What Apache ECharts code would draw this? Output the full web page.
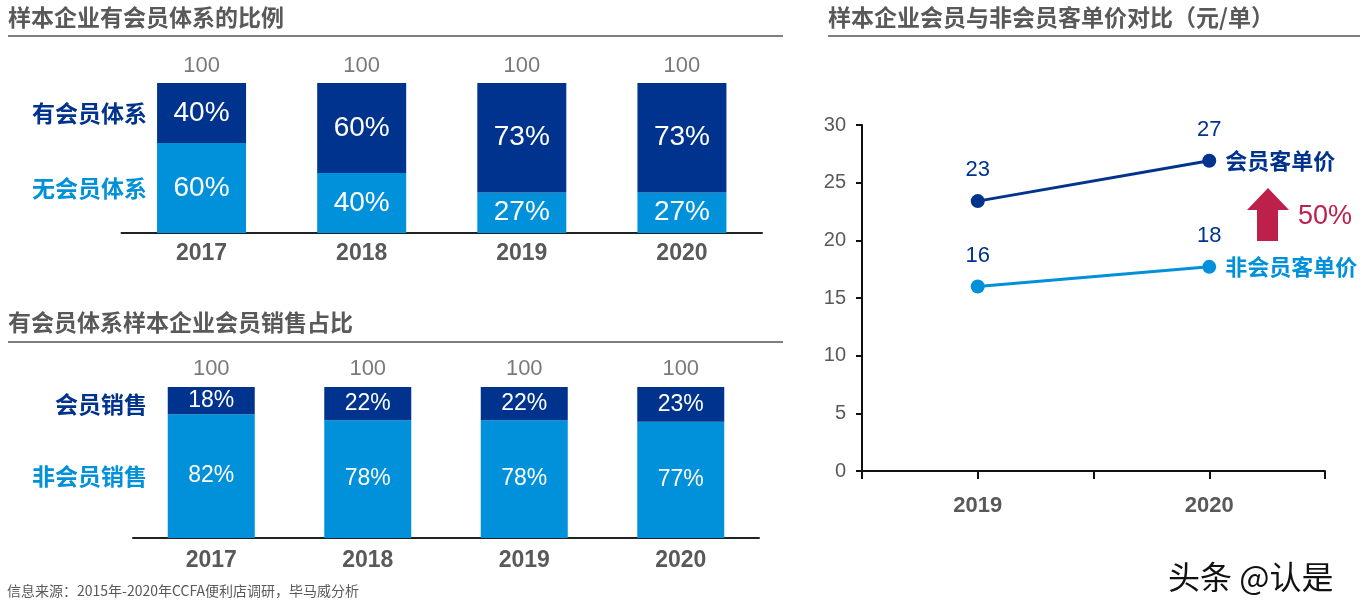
<!DOCTYPE html>
<html>
<head>
<meta charset="utf-8">
<script src="https://cdn.jsdelivr.net/npm/echarts@6/dist/echarts.min.js"></script>
<style>
html,body{margin:0;padding:0;background:#fff;}
#c{width:1369px;height:613px;}
</style>
</head>
<body>
<div id="c"></div>
<script>
// ---- data ----
var years = ['2017', '2018', '2019', '2020'];
var hasMember = [40, 60, 73, 73];
var noMember = [60, 40, 27, 27];
var totals1 = [100, 100, 100, 100];
var memberSales = [18, 22, 22, 23];
var nonMemberSales = [82, 78, 78, 77];
var totals2 = [100, 100, 100, 100];
var priceAxisLabels = ['', '2019', '', '2020', ''];
var pricePos = [1, 3];
var memberPrice = [23.4, 26.9];
var nonMemberPrice = [16.0, 17.7];

var DARK = '#00338D', LIGHT = '#0091DA', RED = '#BC204B', GRAY = '#595959';
var CJK = '"Noto Sans CJK SC", "Noto Sans", sans-serif';
var NUM = '"Liberation Sans", Arial, sans-serif';

function pairs(xs, ys) { return ys.map(function (v, i) { return [xs[i], v]; }); }

var chart = echarts.init(document.getElementById('c'));

function catAxis(gi, margin) {
  return {
    type: 'category', gridIndex: gi, data: years,
    axisLine: { lineStyle: { color: '#222', width: 2 } },
    axisTick: { show: false },
    axisLabel: { color: GRAY, fontFamily: NUM, fontWeight: 'bold', fontSize: 23, margin: margin }
  };
}
function valAxis(gi) {
  return { type: 'value', gridIndex: gi, min: 0, max: 100, show: false };
}
function inLabel(size) {
  return { show: true, position: 'inside', color: '#fff', fontFamily: NUM, fontSize: size,
    formatter: function (p) { return p.value + '%'; } };
}
function totalSeries(ai, data, dist) {
  return {
    type: 'scatter', xAxisIndex: ai, yAxisIndex: ai, data: data, symbolSize: 1,
    itemStyle: { color: 'rgba(0,0,0,0)' }, silent: true,
    label: { show: true, position: 'top', distance: dist, color: GRAY, fontFamily: NUM, fontSize: 22 }
  };
}

var option = {
  animation: false,
  grid: [
    { left: 121.5, top: 83, width: 640.5, height: 150 },
    { left: 133, top: 387, width: 626, height: 151 },
    { left: 862, top: 125, width: 463, height: 346 }
  ],
  xAxis: [
    catAxis(0, 9),
    catAxis(1, 11),
    {
      type: 'value', gridIndex: 2, min: 0, max: 4, interval: 1,
      axisLine: { show: true, lineStyle: { color: '#111', width: 2 } },
      axisTick: { show: true, length: 8, lineStyle: { color: '#111', width: 2 } },
      splitLine: { show: false },
      axisLabel: { color: GRAY, fontFamily: NUM, fontWeight: 'bold', fontSize: 22, margin: 24,
        formatter: function (v) { return priceAxisLabels[v] || ''; } }
    }
  ],
  yAxis: [
    valAxis(0),
    valAxis(1),
    {
      type: 'value', gridIndex: 2, min: 0, max: 30, interval: 5,
      axisLine: { show: true, lineStyle: { color: '#111', width: 2 } },
      axisTick: { show: true, length: 6, lineStyle: { color: '#111', width: 2 } },
      splitLine: { show: false },
      axisLabel: { color: GRAY, fontFamily: NUM, fontSize: 20, margin: 16 }
    }
  ],
  series: [
    { name: '无会员体系', type: 'bar', stack: 'a', xAxisIndex: 0, yAxisIndex: 0, data: noMember,
      barWidth: 89, itemStyle: { color: LIGHT }, label: inLabel(28) },
    { name: '有会员体系', type: 'bar', stack: 'a', xAxisIndex: 0, yAxisIndex: 0, data: hasMember,
      barWidth: 89, itemStyle: { color: DARK }, label: inLabel(28) },
    totalSeries(0, totals1, 6),
    { name: '非会员销售', type: 'bar', stack: 'b', xAxisIndex: 1, yAxisIndex: 1, data: nonMemberSales,
      barWidth: 87, itemStyle: { color: LIGHT }, label: inLabel(23) },
    { name: '会员销售', type: 'bar', stack: 'b', xAxisIndex: 1, yAxisIndex: 1, data: memberSales,
      barWidth: 87, itemStyle: { color: DARK }, label: inLabel(23) },
    totalSeries(1, totals2, 7),
    {
      name: '会员客单价', type: 'line', xAxisIndex: 2, yAxisIndex: 2, data: pairs(pricePos, memberPrice),
      symbol: 'circle', symbolSize: 14, lineStyle: { color: DARK, width: 3 }, itemStyle: { color: DARK },
      label: { show: true, position: 'top', distance: 13, color: DARK, fontFamily: NUM, fontSize: 22,
        formatter: function (p) { return Math.round(p.value[1]); } },
      endLabel: { show: true, distance: 16, color: DARK, fontFamily: CJK, fontWeight: 'bold', fontSize: 22,
        formatter: function (p) { return p.seriesName; } }
    },
    {
      name: '非会员客单价', type: 'line', xAxisIndex: 2, yAxisIndex: 2, data: pairs(pricePos, nonMemberPrice),
      symbol: 'circle', symbolSize: 14, lineStyle: { color: LIGHT, width: 3 }, itemStyle: { color: LIGHT },
      label: { show: true, position: 'top', distance: 13, color: DARK, fontFamily: NUM, fontSize: 22,
        formatter: function (p) { return Math.round(p.value[1]); } },
      endLabel: { show: true, distance: 16, color: LIGHT, fontFamily: CJK, fontWeight: 'bold', fontSize: 22,
        formatter: function (p) { return p.seriesName; } }
    }
  ],
  graphic: [
    { type: 'text', left: 8, top: 6, style: { text: '样本企业有会员体系的比例', fill: GRAY, font: 'bold 23px ' + CJK } },
    { type: 'line', shape: { x1: 8, y1: 36, x2: 783, y2: 36 }, style: { stroke: '#7f7f7f', lineWidth: 2 } },
    { type: 'text', left: 8, top: 311, style: { text: '有会员体系样本企业会员销售占比', fill: GRAY, font: 'bold 23px ' + CJK } },
    { type: 'line', shape: { x1: 8, y1: 342, x2: 783, y2: 342 }, style: { stroke: '#7f7f7f', lineWidth: 2 } },
    { type: 'text', left: 828, top: 6, style: { text: '样本企业会员与非会员客单价对比（元/单）', fill: GRAY, font: 'bold 23px ' + CJK } },
    { type: 'line', shape: { x1: 828, y1: 36, x2: 1360, y2: 36 }, style: { stroke: '#7f7f7f', lineWidth: 2 } },

    { type: 'text', x: 147, y: 113, style: { text: '有会员体系', fill: DARK, font: 'bold 23px ' + CJK, textAlign: 'right', textVerticalAlign: 'middle' } },
    { type: 'text', x: 147, y: 188, style: { text: '无会员体系', fill: LIGHT, font: 'bold 23px ' + CJK, textAlign: 'right', textVerticalAlign: 'middle' } },
    { type: 'text', x: 147, y: 404, style: { text: '会员销售', fill: DARK, font: 'bold 23px ' + CJK, textAlign: 'right', textVerticalAlign: 'middle' } },
    { type: 'text', x: 147, y: 476, style: { text: '非会员销售', fill: LIGHT, font: 'bold 23px ' + CJK, textAlign: 'right', textVerticalAlign: 'middle' } },

    { type: 'polygon', shape: { points: [[1257, 241], [1278, 241], [1278, 210], [1289, 210], [1268, 188], [1247, 210], [1257, 210]] },
      style: { fill: RED } },
    { type: 'text', x: 1298, y: 217, style: { text: '50%', fill: RED, font: '27px ' + NUM, textVerticalAlign: 'middle' } },

    { type: 'text', x: 7, y: 591, style: { text: '信息来源：2015年-2020年CCFA便利店调研，毕马威分析', fill: GRAY, font: '14px ' + CJK, textVerticalAlign: 'middle' } },
    { type: 'text', x: 1168, y: 577, style: { text: '头条 @认是', fill: '#111', stroke: '#fff', lineWidth: 1, font: '32px ' + CJK, textVerticalAlign: 'middle' } }
  ]
};
chart.setOption(option);
</script>
</body>
</html>
